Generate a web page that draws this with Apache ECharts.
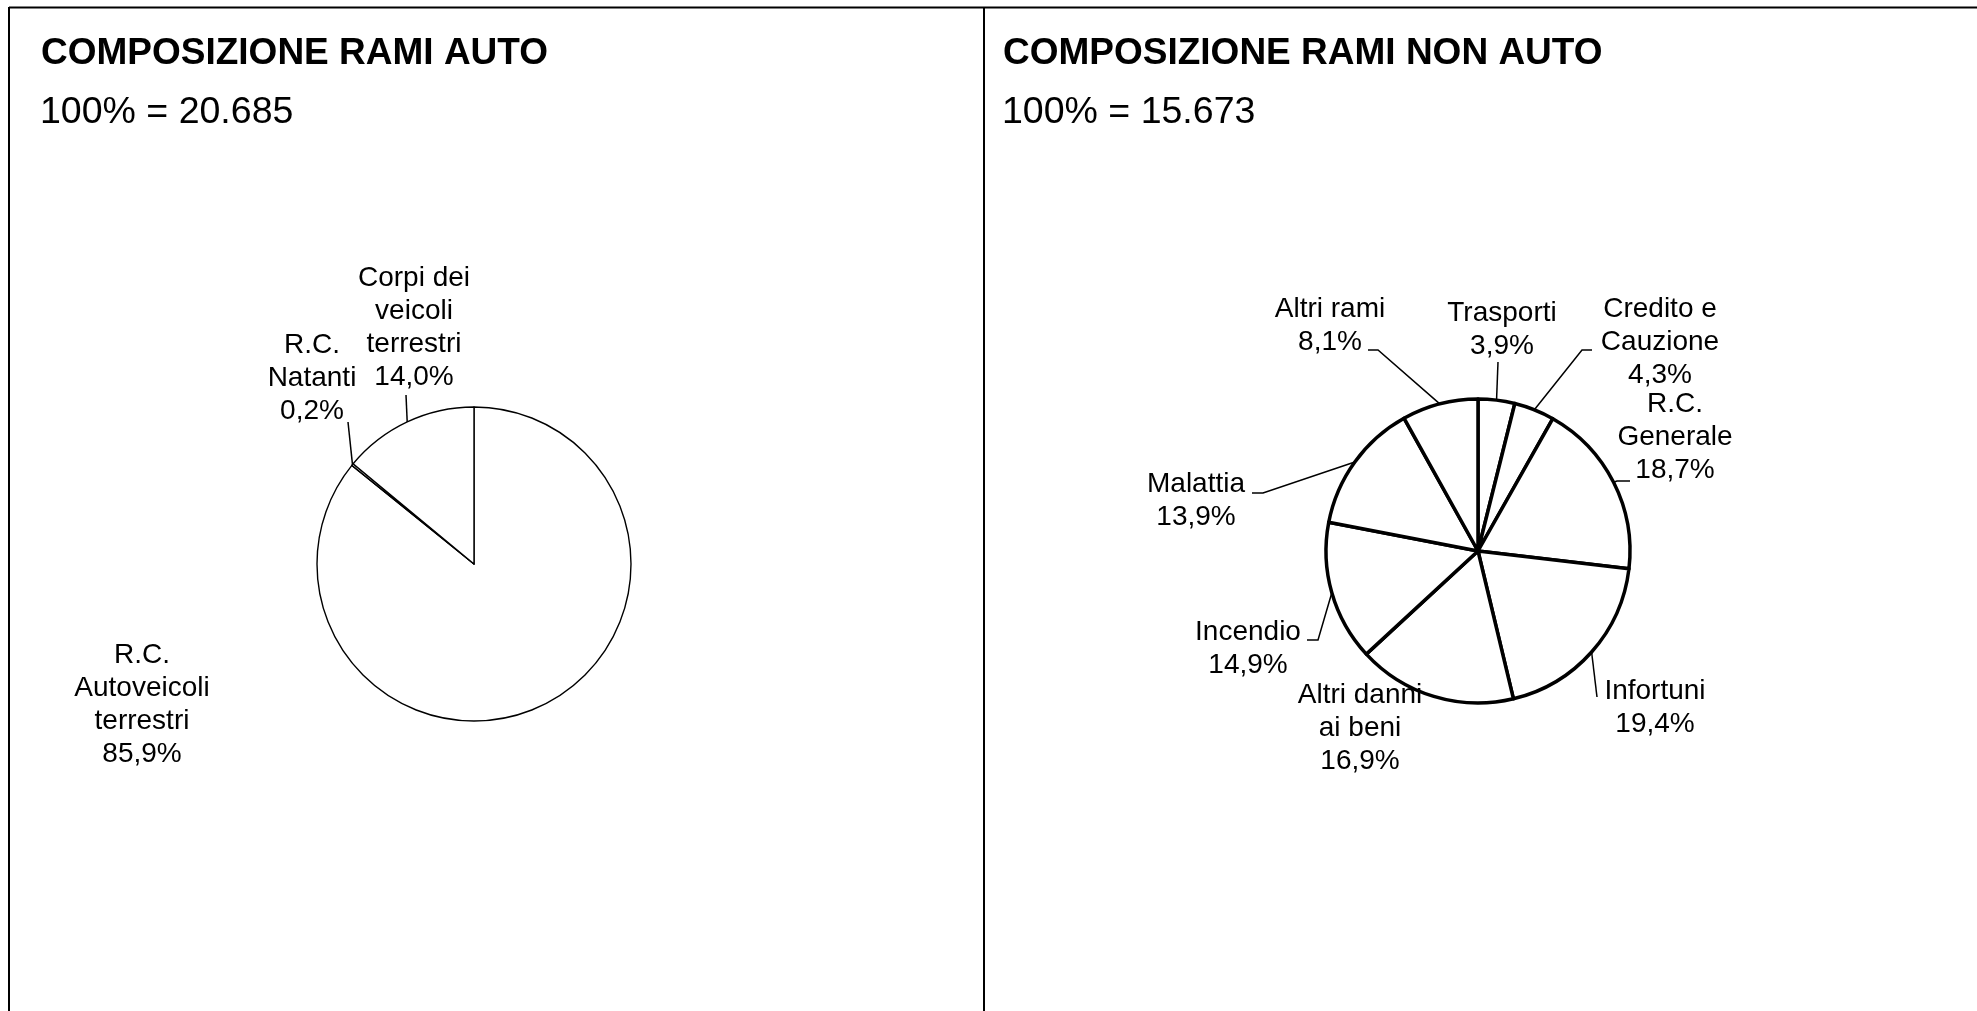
<!DOCTYPE html>
<html>
<head>
<meta charset="utf-8">
<script src="https://cdn.jsdelivr.net/npm/echarts@6/dist/echarts.min.js"></script>
<style>
  html, body { margin: 0; padding: 0; background: #fff; }
  #chart { width: 1977px; height: 1011px; }
</style>
</head>
<body>
<div id="chart"></div>
<script>
// rami auto (quote %)
const autoNames = ['R.C.\nAutoveicoli\nterrestri', 'R.C.\nNatanti', 'Corpi dei\nveicoli\nterrestri']
const autoShares = [85.9, 0.2, 14.0]
const autoTotal = '20.685'

// rami non auto (quote %)
const nonAutoNames = ['Trasporti', 'Credito e\nCauzione', 'R.C.\nGenerale', 'Infortuni', 'Altri danni\nai beni', 'Incendio', 'Malattia', 'Altri rami']
const nonAutoShares = [3.9, 4.3, 18.7, 19.4, 16.9, 14.9, 13.9, 8.1]
const nonAutoTotal = '15.673'

const FONT = "'Liberation Sans', Arial, sans-serif"
const autoCenter = [474, 564]
const nonAutoCenter = [1478, 551]

// label placement as in the original (offset of label centre from pie centre),
// leader points are relative to the label centre, null = no leader
const autoLabelPos = [[-332, 141], [-162, -186], [-60, -236]]
const autoLeaders = [null, [[36, 44]], [[-8, 67]]]
const nonAutoLabelPos = [[24, -221], [182, -209], [197, -114], [177, 157], [-118, 177], [-230, 98], [-282, -50], [-148, -225]]
const nonAutoLeaders = [
  [[-4, 32]],
  [[-78, 8], [-68, 8]],
  [[-58, 44], [-45, 44]],
  [[-58, -11]],
  null,
  [[70, -9], [59, -9]],
  [[67, -8], [56, -8]],
  [[48, 24], [38, 24]],
]

const fmtPct = v => v.toFixed(1).replace('.', ',') + '%'

function placeLabels(center, pos, leaders) {
  return function (params) {
    const i = params.dataIndex
    const x = center[0] + pos[i][0]
    const y = center[1] + pos[i][1]
    const out = { x: x, y: y, align: 'center', verticalAlign: 'middle' }
    if (leaders[i] && params.labelLinePoints) {
      const pts = [params.labelLinePoints[0]]
      leaders[i].forEach(p => pts.push([x + p[0], y + p[1]]))
      out.labelLinePoints = pts
    }
    return out
  }
}

function pieSeries(names, values, center, radius, border, pos, leaders) {
  return {
    type: 'pie',
    center: center,
    radius: radius,
    startAngle: 90,
    clockwise: true,
    avoidLabelOverlap: false,
    animation: false,
    silent: true,
    data: names.map((n, i) => ({
      name: n,
      value: values[i],
      labelLine: { show: !!leaders[i] },
    })),
    itemStyle: { color: '#fff', borderColor: '#000', borderWidth: border },
    label: {
      show: true,
      position: 'outside',
      formatter: p => p.name + '\n' + fmtPct(p.value),
      fontFamily: FONT,
      fontSize: 28,
      lineHeight: 33,
      color: '#000',
    },
    labelLine: { lineStyle: { color: '#000', width: 1.5 } },
    labelLayout: placeLabels(center, pos, leaders),
  }
}

const headStyle = (size, weight) => ({ fontFamily: FONT, fontSize: size, fontWeight: weight, color: '#000', lineHeight: size })

const chart = echarts.init(document.getElementById('chart'))
chart.setOption({
  backgroundColor: '#fff',
  animation: false,
  title: [
    { text: 'COMPOSIZIONE RAMI AUTO', left: 41, top: 35, padding: 0, textStyle: headStyle(37, 'bold') },
    { text: '100% = ' + autoTotal, left: 40, top: 94, padding: 0, textStyle: headStyle(37.5, 'normal') },
    { text: 'COMPOSIZIONE RAMI NON AUTO', left: 1003, top: 35, padding: 0, textStyle: headStyle(37, 'bold') },
    { text: '100% = ' + nonAutoTotal, left: 1002, top: 94, padding: 0, textStyle: headStyle(37.5, 'normal') },
  ],
  graphic: [
    { type: 'line', shape: { x1: 9, y1: 7.5, x2: 1977, y2: 7.5 }, style: { stroke: '#000', lineWidth: 2 } },
    { type: 'line', shape: { x1: 9, y1: 7, x2: 9, y2: 1011 }, style: { stroke: '#000', lineWidth: 2 } },
    { type: 'line', shape: { x1: 984, y1: 7, x2: 984, y2: 1011 }, style: { stroke: '#000', lineWidth: 2 } },
  ],
  series: [
    pieSeries(autoNames, autoShares, autoCenter, 157, 1.4, autoLabelPos, autoLeaders),
    pieSeries(nonAutoNames, nonAutoShares, nonAutoCenter, 152, 3.5, nonAutoLabelPos, nonAutoLeaders),
  ],
})
</script>
</body>
</html>
